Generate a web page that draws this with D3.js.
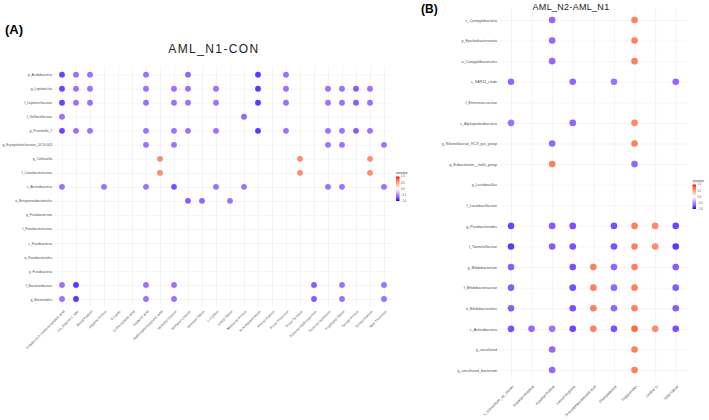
<!DOCTYPE html>
<html>
<head>
<meta charset="utf-8">
<script src="https://cdn.jsdelivr.net/npm/d3@7"></script>
<style>
  body { margin: 0; background: #fff; }
  text { font-family: "Liberation Sans", Arial, sans-serif; }
</style>
</head>
<body>
<div class="chart"></div>
<script>
// Data
//= ================================
var _ = null;

var rowsA = ["p_Acidobacteria", "g_Leptotrichia", "f_Leptotrichiaceae", "f_Veillonellaceae",
  "g_Prevotella_7", "g_Erysipelotrichaceae_UCG-003", "g_Collinsella", "f_Coriobacteriaceae",
  "c_Actinobacteria", "o_Betaproteobacteriales", "g_Fusobacterium", "f_Fusobacteriaceae",
  "c_Fusobacteriia", "o_Fusobacteriales", "p_Fusobacteria", "f_Bacteroidaceae", "g_Bacteroides"];

var colsA = ["4-Hydroxy-3-methoxymandelic acid", "Eu_Albumin L ratio", "Blood Platelet",
  "Aspartic-Proline", "D-Lactic", "D-Phenyllactic acid", "Glutamic acid",
  "Hydroxyphenylpyruvic acid", "Isoleucyl-Glycine", "Isoleucyl-Leucine", "Isoleucyl-Valine",
  "L-Cystine", "Leucyl-Valine", "Methionyl-Proline", "N-Acetylputrescine", "Phenyl-Alanine",
  "Prolyl-Threonine", "Prolyl-Tyrosine", "Threonyl-Hydroxyproline", "Threonyl-Isoleucine",
  "Tryptophyl-Valine", "Tyrosyl-Proline", "Tyrosyl-Alanine", "Valyl-Threonine"];

// spearman values, null = not shown
var valuesA = [
  [-0.8, -0.6, -0.6, _, _, _, -0.6, _, _, -0.65, _, _, _, _, -0.85, _, -0.6, _, _, _, _, _, _, _],
  [-0.8, -0.6, -0.6, _, _, _, -0.6, _, -0.6, -0.6, _, -0.6, _, _, -0.85, _, -0.6, _, _, -0.6, -0.6, -0.7, -0.6, _],
  [-0.8, -0.6, -0.6, _, _, _, -0.6, _, -0.6, -0.6, _, -0.6, _, _, -0.85, _, -0.6, _, _, -0.6, -0.6, -0.7, -0.6, _],
  [-0.6, _, _, _, _, _, _, _, _, _, _, _, _, -0.65, _, _, _, _, _, _, _, _, _, _],
  [-0.8, -0.6, -0.6, _, _, _, -0.6, _, -0.6, -0.6, _, -0.6, _, _, -0.85, _, -0.6, _, _, -0.6, -0.6, -0.7, -0.6, _],
  [_, _, _, _, _, _, -0.6, _, -0.6, _, _, _, _, _, _, _, _, _, _, -0.6, -0.6, _, _, -0.6],
  [_, _, _, _, _, _, _, 0.6, _, _, _, _, _, _, _, _, _, 0.6, _, _, _, _, 0.6, _],
  [_, _, _, _, _, _, _, 0.6, _, _, _, _, _, _, _, _, _, 0.6, _, _, _, _, 0.6, _],
  [-0.6, _, _, -0.6, _, _, -0.6, _, -0.75, _, _, -0.6, _, -0.6, _, _, _, _, _, -0.6, -0.6, _, _, -0.6],
  [_, _, _, _, _, _, _, _, _, -0.7, -0.65, _, -0.6, _, _, _, _, _, _, _, _, _, _, _],
  [_, _, _, _, _, _, _, _, _, _, _, _, _, _, _, _, _, _, _, _, _, _, _, _],
  [_, _, _, _, _, _, _, _, _, _, _, _, _, _, _, _, _, _, _, _, _, _, _, _],
  [_, _, _, _, _, _, _, _, _, _, _, _, _, _, _, _, _, _, _, _, _, _, _, _],
  [_, _, _, _, _, _, _, _, _, _, _, _, _, _, _, _, _, _, _, _, _, _, _, _],
  [_, _, _, _, _, _, _, _, _, _, _, _, _, _, _, _, _, _, _, _, _, _, _, _],
  [-0.6, -0.85, _, _, _, _, -0.6, _, -0.6, _, _, _, _, _, _, _, _, _, -0.7, _, -0.6, _, _, -0.6],
  [-0.6, -0.85, _, _, _, _, -0.6, _, -0.6, _, _, _, _, _, _, _, _, _, -0.7, _, -0.6, _, _, -0.6]
];

var rowsB = ["c_Campylobacteria", "p_Epsilonbacteraeota", "o_Campylobacterales", "c_SAR11_clade",
  "f_Enterococcaceae", "c_Alphaproteobacteria", "g_Rikenellaceae_RC9_gut_group",
  "g_Eubacterium__hallii_group", "g_Lactobacillus", "f_Lactobacillaceae", "g_Parabacteroides",
  "f_Tannerellaceae", "g_Bifidobacterium", "f_Bifidobacteriaceae", "o_Bifidobacteriales",
  "c_Actinobacteria", "g_uncultured", "g_uncultured_bacterium"];

var colsB = ["s_Clostridium_sp_cluster", "Aspartyl-Histidine", "Aspartyl-Proline",
  "Leucyl-Arginine", "N-Acetylneuraminate acid", "Phenylalanine",
  "Triglycerides", "Uridine D", "Valyl-Valine"];

var valuesB = [
  [_, _, -0.65, _, _, _, 0.65, _, _],
  [_, _, -0.65, _, _, _, 0.65, _, _],
  [_, _, -0.65, _, _, _, 0.65, _, _],
  [-0.65, _, _, -0.65, _, -0.6, _, _, -0.65],
  [_, _, _, _, _, _, _, _, _],
  [-0.6, _, _, -0.65, _, _, 0.6, _, _],
  [_, _, -0.65, _, _, _, 0.65, _, _],
  [_, _, 0.65, _, _, _, -0.65, _, _],
  [_, _, _, _, _, _, _, _, _],
  [_, _, _, _, _, _, _, _, _],
  [-0.8, _, -0.7, -0.75, _, -0.75, 0.65, 0.6, -0.8],
  [-0.85, _, -0.7, -0.75, _, -0.75, 0.65, 0.6, -0.85],
  [-0.7, _, _, -0.75, 0.65, -0.65, 0.65, _, -0.7],
  [-0.7, _, _, -0.75, 0.65, -0.65, 0.65, _, -0.7],
  [-0.7, _, _, -0.75, 0.65, -0.65, 0.65, _, -0.7],
  [-0.75, -0.65, -0.6, -0.8, 0.65, -0.75, 0.75, 0.6, -0.75],
  [_, _, -0.65, _, _, _, 0.65, _, _],
  [_, _, -0.65, _, _, _, 0.65, _, _]
];

var legendTicks = [1.0, 0.5, 0.0, -0.5, -1.0];

// Step 1: svg
//= ================================
var svgWidth = 709;
var svgHeight = 420;

var svg = d3.select(".chart")
  .append("svg")
  .attr("width", svgWidth)
  .attr("height", svgHeight);

var color = d3.scaleLinear()
  .domain([-1, 0, 1])
  .range(["blue", "white", "red"])
  .interpolate(d3.interpolateLab);

// gradient for legends
var grad = svg.append("defs").append("linearGradient")
  .attr("id", "spearGrad")
  .attr("x1", 0).attr("y1", 0).attr("x2", 0).attr("y2", 1);
d3.range(0, 1.0001, 0.1).forEach(function (t) {
  grad.append("stop").attr("offset", t).attr("stop-color", color(1 - 2 * t));
});

// Step 2: one dot panel
//= ================================
function drawPanel(cfg) {
  var g = svg.append("g");

  var x = d3.scalePoint().domain(cfg.cols).range(cfg.xRange).padding(0.6);
  var y = d3.scalePoint().domain(cfg.rows).range(cfg.yRange).padding(0.6);

  // grid
  g.append("g")
    .attr("transform", `translate(0, ${cfg.yRange[1]})`)
    .call(d3.axisBottom(x).tickSize(-(cfg.yRange[1] - cfg.yRange[0])).tickFormat(""))
    .call(a => a.select(".domain").remove())
    .selectAll("line").attr("stroke", "#ebebeb").attr("stroke-width", 0.5);

  g.append("g")
    .attr("transform", `translate(${cfg.xRange[0]}, 0)`)
    .call(d3.axisLeft(y).tickSize(-(cfg.xRange[1] - cfg.xRange[0])).tickFormat(""))
    .call(a => a.select(".domain").remove())
    .selectAll("line").attr("stroke", "#ebebeb").attr("stroke-width", 0.5);

  // row labels
  var leftAxis = g.append("g")
    .attr("transform", `translate(${cfg.xRange[0] - 1.5}, 0)`)
    .call(d3.axisLeft(y).tickSize(0).tickPadding(0));
  leftAxis.select(".domain").remove();
  leftAxis.selectAll("text")
    .attr("font-size", cfg.fs)
    .attr("fill", "#4d4d4d")
    .style("font-family", "'Liberation Sans', Arial, sans-serif");

  // column labels
  var bottomAxis = g.append("g")
    .attr("transform", `translate(0, ${cfg.yRange[1]})`)
    .call(d3.axisBottom(x).tickSize(0).tickPadding(0));
  bottomAxis.select(".domain").remove();
  bottomAxis.selectAll("text")
    .attr("font-size", cfg.fs)
    .attr("fill", "#4d4d4d")
    .attr("text-anchor", "end")
    .attr("dy", "0.35em")
    .attr("y", 0)
    .attr("transform", `translate(1.5, ${cfg.labelGap}) rotate(-45)`)
    .style("font-family", "'Liberation Sans', Arial, sans-serif");

  // dots
  var cells = [];
  cfg.values.forEach(function (row, i) {
    row.forEach(function (v, j) {
      if (v !== null) cells.push({ r: cfg.rows[i], c: cfg.cols[j], v: v });
    });
  });

  g.selectAll("circle.dot")
    .data(cells)
    .enter()
    .append("circle")
    .attr("class", "dot")
    .attr("cx", d => x(d.c))
    .attr("cy", d => y(d.r))
    .attr("r", cfg.r)
    .attr("fill", d => color(d.v));

  // legend
  var lg = svg.append("g").attr("transform", `translate(${cfg.legend[0]}, ${cfg.legend[1]})`);
  lg.append("text")
    .attr("x", 0).attr("y", 0)
    .attr("font-size", cfg.legendFs)
    .attr("fill", "#333")
    .text("spearman");
  var ly = d3.scaleLinear().domain([1, -1]).range([cfg.legendBar[0], cfg.legendBar[1]]);
  lg.append("rect")
    .attr("x", 0)
    .attr("y", cfg.legendBar[0])
    .attr("width", cfg.legendW)
    .attr("height", cfg.legendBar[1] - cfg.legendBar[0])
    .attr("fill", "url(#spearGrad)");
  lg.selectAll("text.lt")
    .data(legendTicks)
    .enter()
    .append("text")
    .attr("class", "lt")
    .attr("x", cfg.legendW + 1.5)
    .attr("y", d => ly(d))
    .attr("dy", "0.35em")
    .attr("font-size", cfg.legendFs)
    .attr("fill", "#4d4d4d")
    .text(d => d3.format(".1f")(d));
}

drawPanel({
  rows: rowsA, cols: colsA, values: valuesA,
  xRange: [53.6, 392.4], yRange: [66.3, 307.4],
  fs: 3.4, labelGap: 3.5, r: 2.9,
  legend: [396, 174], legendBar: [2.5, 27], legendW: 3.5, legendFs: 2.6
});

drawPanel({
  rows: rowsB, cols: colsB, values: valuesB,
  xRange: [498.6, 688.1], yRange: [7.6, 382.4],
  fs: 3.7, labelGap: 3.5, r: 3.3,
  legend: [692.5, 182], legendBar: [2.5, 27], legendW: 3.5, legendFs: 2.6
});

// Step 3: titles
//= ================================
svg.append("text")
  .attr("x", 214).attr("y", 53)
  .attr("text-anchor", "middle")
  .attr("font-size", 12)
  .attr("letter-spacing", 1.4)
  .attr("fill", "#222")
  .text("AML_N1-CON");

svg.append("text")
  .attr("x", 571).attr("y", 10)
  .attr("text-anchor", "middle")
  .attr("font-size", 9)
  .attr("letter-spacing", 0.3)
  .attr("fill", "#222")
  .text("AML_N2-AML_N1");

svg.append("text")
  .attr("x", 5).attr("y", 34)
  .attr("font-size", 13)
  .attr("font-weight", "bold")
  .attr("fill", "#000")
  .text("(A)");

svg.append("text")
  .attr("x", 421).attr("y", 12.5)
  .attr("font-size", 12)
  .attr("font-weight", "bold")
  .attr("fill", "#000")
  .text("(B)");
</script>
</body>
</html>
